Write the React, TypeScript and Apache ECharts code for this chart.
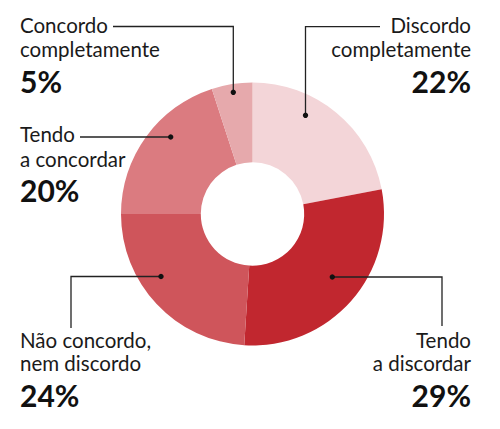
import React, { useEffect, useRef } from "react";
import * as echarts from "echarts";

const categories = [
  "Discordo completamente",
  "Tendo a discordar",
  "Não concordo, nem discordo",
  "Tendo a concordar",
  "Concordo completamente",
];
const values = [22, 29, 24, 20, 5];
const colors = ["#f3d5d8", "#c1272f", "#cf555b", "#db7b80", "#e6a9ac"];
const labelLines = [
  ["Discordo", "completamente"],
  ["Tendo", "a discordar"],
  ["Não concordo,", "nem discordo"],
  ["Tendo", "a concordar"],
  ["Concordo", "completamente"],
];

// layout of annotations (positions only)
const annot = [
  { align: "right", x: 471, y1: 25.2, y2: 49.2, yp: 81.1, line: [[380, 26.7], [305.5, 26.7], [305.5, 115.3]] },
  { align: "right", x: 471, y1: 339.5, y2: 363.2, yp: 395.1, line: [[442, 326], [442, 277], [332.3, 277]] },
  { align: "left", x: 20, y1: 339.5, y2: 363.2, yp: 395.1, line: [[71, 328], [71, 276.5], [161, 276.5]] },
  { align: "left", x: 20, y1: 134.2, y2: 158.9, yp: 190.1, line: [[80, 137], [170.7, 137]] },
  { align: "left", x: 20, y1: 25.2, y2: 49.2, yp: 81.1, line: [[113, 26.5], [233.3, 26.5], [233.3, 92.3]] },
];

export default function App() {
  const ref = useRef<HTMLDivElement>(null);
  useEffect(() => {
    if (!ref.current) return;
    const chart = echarts.init(ref.current, null, { renderer: "svg" });
    const graphics: any[] = [];
    categories.forEach((c, i) => {
      const a = annot[i];
      const pts = a.line;
      graphics.push({
        type: "polyline",
        shape: { points: pts },
        style: { stroke: "#222", lineWidth: 1.3, fill: null },
        z: 10,
      });
      const end = pts[pts.length - 1];
      graphics.push({
        type: "circle",
        shape: { cx: end[0], cy: end[1], r: 2.7 },
        style: { fill: "#111" },
        z: 11,
      });
      const font = "20.5px Lato";
      [labelLines[i][0], labelLines[i][1]].forEach((t, k) => {
        graphics.push({
          type: "text",
          x: a.x,
          y: k === 0 ? a.y1 : a.y2,
          style: {
            text: t,
            font,
            fill: "#1a1a1a",
            align: a.align,
            verticalAlign: "middle",
          },
          z: 10,
        });
      });
      graphics.push({
        type: "text",
        x: a.x,
        y: a.yp,
        style: {
          text: values[i] + "%",
          font: "bold 30px Lato",
          fill: "#111",
          align: a.align,
          verticalAlign: "middle",
        },
        z: 10,
      });
    });
    chart.setOption({
      animation: false,
      backgroundColor: "#ffffff",
      series: [
        {
          type: "pie",
          center: [252.5, 214],
          radius: [51.7, 131.5],
          startAngle: 90,
          clockwise: true,
          label: { show: false },
          labelLine: { show: false },
          emphasis: { disabled: true },
          silent: true,
          itemStyle: { borderWidth: 0 },
          data: categories.map((c, i) => ({
            name: c,
            value: values[i],
            itemStyle: { color: colors[i] },
          })),
        },
      ],
      graphic: graphics,
    });
    return () => chart.dispose();
  }, []);
  return (
    <div
      ref={ref}
      style={{ position: "fixed", left: 0, top: 0, width: 500, height: 429 }}
    />
  );
}
